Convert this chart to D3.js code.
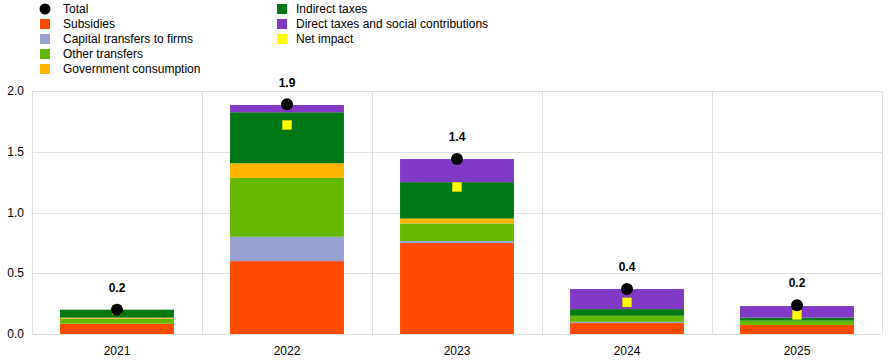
<!DOCTYPE html>
<html>
<head>
<meta charset="utf-8">
<script src="https://cdn.jsdelivr.net/npm/d3@7"></script>
<style>
  body { margin: 0; background: #fff; }
  svg { font-family: Arial, "Liberation Sans", sans-serif; }
</style>
</head>
<body>
<div id="chart"></div>
<script>
// data
const years = ["2021", "2022", "2023", "2024", "2025"];
const subsidies = [0.085, 0.60, 0.75, 0.09, 0.075];
const capitalTransfers = [0.0, 0.20, 0.015, 0.01, 0.0];
const otherTransfers = [0.04, 0.485, 0.145, 0.05, 0.035];
const govConsumption = [0.01, 0.12, 0.04, 0.0, 0.0];
const indirectTaxes = [0.065, 0.42, 0.30, 0.055, 0.025];
const directTaxes = [0.0, 0.06, 0.19, 0.165, 0.095];
const total = [0.2, 1.89, 1.44, 0.37, 0.237];
const totalLabels = ["0.2", "1.9", "1.4", "0.4", "0.2"];
const netImpact = [0.2, 1.72, 1.21, 0.26, 0.157];
const yTicks = [0, 0.5, 1.0, 1.5, 2.0];

const series = [
  { name: "Subsidies", color: "#ff4b00", values: subsidies },
  { name: "Capital transfers to firms", color: "#98a1d0", values: capitalTransfers },
  { name: "Other transfers", color: "#65b800", values: otherTransfers },
  { name: "Government consumption", color: "#ffb400", values: govConsumption },
  { name: "Indirect taxes", color: "#007816", values: indirectTaxes },
  { name: "Direct taxes and social contributions", color: "#8139c6", values: directTaxes }
];

const width = 895, height = 362;
const margin = { top: 91, right: 13, bottom: 28, left: 32 };

const svg = d3.select("#chart").append("svg")
  .attr("width", width)
  .attr("height", height);

const x = d3.scaleBand()
  .domain(years)
  .range([margin.left, width - margin.right])
  .paddingInner(0)
  .paddingOuter(0);

const y = d3.scaleLinear()
  .domain([0, 2])
  .range([height - margin.bottom, margin.top]);

const gridColor = "#e0e0e0";

// horizontal gridlines
svg.append("g")
  .selectAll("line")
  .data(yTicks)
  .join("line")
  .attr("x1", margin.left)
  .attr("x2", width - margin.right)
  .attr("y1", d => Math.round(y(d)) + 0.5)
  .attr("y2", d => Math.round(y(d)) + 0.5)
  .attr("stroke", gridColor)
  .attr("stroke-width", 1);

// vertical category separators
const edges = years.map(d => x(d)).concat([x(years[years.length - 1]) + x.bandwidth()]);
svg.append("g")
  .selectAll("line")
  .data(edges)
  .join("line")
  .attr("x1", d => Math.round(d) + 0.5)
  .attr("x2", d => Math.round(d) + 0.5)
  .attr("y1", y(2))
  .attr("y2", y(0))
  .attr("stroke", gridColor)
  .attr("stroke-width", 1);

// y axis labels
svg.append("g")
  .selectAll("text")
  .data(yTicks)
  .join("text")
  .attr("x", 24)
  .attr("y", d => y(d))
  .attr("dy", "0.35em")
  .attr("text-anchor", "end")
  .attr("font-size", 12)
  .attr("fill", "#000")
  .text(d => d.toFixed(1));

// x axis labels
svg.append("g")
  .selectAll("text")
  .data(years)
  .join("text")
  .attr("x", d => x(d) + x.bandwidth() / 2)
  .attr("y", 351)
  .attr("dy", "0.35em")
  .attr("text-anchor", "middle")
  .attr("font-size", 12)
  .attr("fill", "#000")
  .text(d => d);

// stacked bars
const table = years.map((yr, i) => {
  const row = { year: yr };
  series.forEach(s => { row[s.name] = s.values[i]; });
  return row;
});
const stack = d3.stack().keys(series.map(s => s.name));
const stacked = stack(table);

const barW = x.bandwidth() * 0.67;
const barOff = (x.bandwidth() - barW) / 2;

svg.append("g")
  .selectAll("g")
  .data(stacked)
  .join("g")
  .attr("fill", (d, i) => series[i].color)
  .selectAll("rect")
  .data(d => d)
  .join("rect")
  .attr("x", d => x(d.data.year) + barOff)
  .attr("width", barW)
  .attr("y", d => y(d[1]))
  .attr("height", d => Math.max(0, y(d[0]) - y(d[1])));

// net impact squares
const sq = 9;
svg.append("g")
  .selectAll("rect")
  .data(years)
  .join("rect")
  .attr("x", d => x(d) + x.bandwidth() / 2 - sq / 2)
  .attr("y", (d, i) => y(netImpact[i]) - sq / 2)
  .attr("width", sq)
  .attr("height", sq)
  .attr("fill", "#ffff00")
  .attr("stroke", "#e8d800")
  .attr("stroke-width", 0.5);

// total dots
svg.append("g")
  .selectAll("circle")
  .data(years)
  .join("circle")
  .attr("cx", d => x(d) + x.bandwidth() / 2)
  .attr("cy", (d, i) => y(total[i]))
  .attr("r", 6)
  .attr("fill", "#000");

// total labels
svg.append("g")
  .selectAll("text")
  .data(years)
  .join("text")
  .attr("x", d => x(d) + x.bandwidth() / 2)
  .attr("y", (d, i) => y(total[i]) - 22)
  .attr("dy", "0.35em")
  .attr("text-anchor", "middle")
  .attr("font-size", 12)
  .attr("font-weight", "bold")
  .attr("fill", "#000")
  .text((d, i) => totalLabels[i]);

// legend
const legendItems = [
  { name: "Total", type: "dot", color: "#000", col: 0, row: 0 },
  { name: "Subsidies", type: "sq", color: series[0].color, col: 0, row: 1 },
  { name: "Capital transfers to firms", type: "sq", color: series[1].color, col: 0, row: 2 },
  { name: "Other transfers", type: "sq", color: series[2].color, col: 0, row: 3 },
  { name: "Government consumption", type: "sq", color: series[3].color, col: 0, row: 4 },
  { name: "Indirect taxes", type: "sq", color: series[4].color, col: 1, row: 0 },
  { name: "Direct taxes and social contributions", type: "sq", color: series[5].color, col: 1, row: 1 },
  { name: "Net impact", type: "sq", color: "#ffff00", col: 1, row: 2 }
];
const colMarkX = [45, 282];
const colTextX = [63, 296];

const legend = svg.append("g");
legendItems.forEach(it => {
  const cy = 9 + it.row * 15;
  if (it.type === "dot") {
    legend.append("circle")
      .attr("cx", colMarkX[it.col])
      .attr("cy", cy)
      .attr("r", 5.5)
      .attr("fill", it.color);
  } else {
    legend.append("rect")
      .attr("x", colMarkX[it.col] - 5)
      .attr("y", cy - 5)
      .attr("width", 10)
      .attr("height", 10)
      .attr("fill", it.color);
  }
  legend.append("text")
    .attr("x", colTextX[it.col])
    .attr("y", cy)
    .attr("dy", "0.35em")
    .attr("font-size", 12)
    .attr("fill", "#000")
    .text(it.name);
});
</script>
</body>
</html>
